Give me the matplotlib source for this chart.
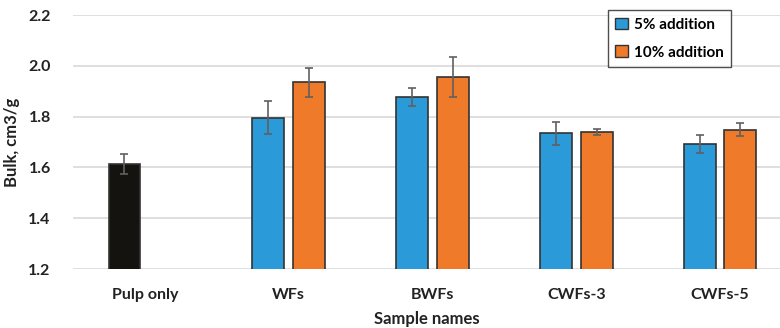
import numpy as np
import matplotlib.pyplot as plt
from matplotlib.patches import Patch

plt.rcParams['font.family'] = ['Lato', 'DejaVu Sans']
plt.rcParams['font.weight'] = 'bold'

# Data
samples = ["Pulp only", "WFs", "BWFs", "CWFs-3", "CWFs-5"]
bulk_5 = [1.613, 1.795, 1.878, 1.734, 1.691]
err_5 = [0.039, 0.065, 0.035, 0.045, 0.035]
bulk_10 = [np.nan, 1.935, 1.955, 1.738, 1.748]
err_10 = [0, 0.057, 0.078, 0.012, 0.025]
bar_colors_5 = ["#15130F", "#2A9BD8", "#2A9BD8", "#2A9BD8", "#2A9BD8"]

fig = plt.figure(figsize=(7.8, 3.28), dpi=100)
ax = fig.add_axes([73/780, 1 - 269/328, 1 - 73/780, (269 - 15)/328])

x = np.arange(len(samples))
w = 0.222
off = 0.142

ax.bar(x - off, bulk_5, w, color=bar_colors_5, edgecolor="#333333", linewidth=1.2,
       yerr=err_5, error_kw=dict(ecolor="#606060", capsize=3, elinewidth=1.2, capthick=1.2),
       zorder=3)
ax.bar(x + off, bulk_10, w, color="#EE7A2A", edgecolor="#333333", linewidth=1.2,
       yerr=err_10, error_kw=dict(ecolor="#606060", capsize=3, elinewidth=1.2, capthick=1.2),
       zorder=3)

ax.set_ylim(1.2, 2.2)
ax.set_yticks(np.arange(1.2, 2.21, 0.2))
ax.set_yticklabels([f"{v:.1f}" for v in np.arange(1.2, 2.21, 0.2)])
ax.set_xlim(-0.5, 4.417)
ax.set_xticks(x)
ax.set_xticklabels(samples)
ax.tick_params(length=0, labelsize=11.5, colors="#222222", pad=14)
ax.tick_params(axis='y', pad=16)
for s in ax.spines.values():
    s.set_visible(False)
ax.grid(axis='y', color="#D9D9D9", linewidth=1.2, zorder=0)
ax.set_axisbelow(True)

ax.set_xlabel("Sample names", fontsize=12, fontweight='bold', color="#222222", labelpad=6)
ax.set_ylabel("Bulk, cm3/g", fontsize=12, fontweight='bold', color="#222222", labelpad=6)

handles = [Patch(facecolor="#2A9BD8", edgecolor="#333333", label="5% addition"),
           Patch(facecolor="#EE7A2A", edgecolor="#333333", label="10% addition")]
leg = ax.legend(handles=handles, loc='upper left', bbox_to_anchor=((600 - 73)/707, 1.05),
                fontsize=11, frameon=True, fancybox=False, edgecolor="#222222",
                handlelength=0.8, handleheight=0.8, handletextpad=0.4, labelspacing=0.9,
                borderpad=0.5)
leg.get_frame().set_linewidth(1.0)

fig.savefig("out.png", dpi=100)
